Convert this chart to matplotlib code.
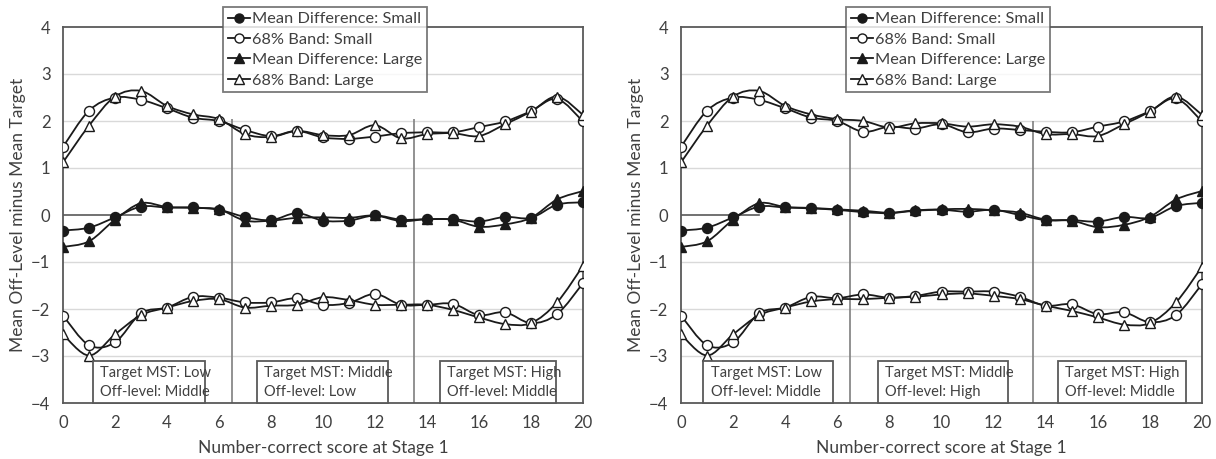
import numpy as np
import matplotlib
matplotlib.use("Agg")
import matplotlib.pyplot as plt
from matplotlib.path import Path
from matplotlib.patches import PathPatch, Rectangle
from matplotlib.lines import Line2D

plt.rcParams['font.family'] = ['Lato', 'DejaVu Sans']

scores = list(range(21))
x_ticks = list(range(0, 21, 2))
y_ticks = [4, 3, 2, 1, 0, -1, -2, -3, -4]

legend_labels = ["Mean Difference: Small", "68% Band: Small",
                 "Mean Difference: Large", "68% Band: Large"]

# ---- Left panel ----
L_mean_small = [-0.33, -0.27, -0.05, 0.18, 0.16, 0.16, 0.11, -0.04, -0.11, 0.04, -0.12,
                -0.12, -0.01, -0.10, -0.09, -0.09, -0.14, -0.04, -0.06, 0.22, 0.27]
L_mean_large = [-0.68, -0.56, -0.10, 0.25, 0.17, 0.15, 0.12, -0.12, -0.12, -0.06, -0.05,
                -0.06, -0.01, -0.13, -0.09, -0.10, -0.25, -0.20, -0.06, 0.33, 0.51]
L_band_small_hi = [1.45, 2.22, 2.50, 2.45, 2.27, 2.07, 2.00, 1.81, 1.68, 1.79, 1.65,
                   1.62, 1.67, 1.74, 1.76, 1.76, 1.87, 1.99, 2.21, 2.47, 1.99]
L_band_large_hi = [1.12, 1.90, 2.52, 2.64, 2.32, 2.14, 2.04, 1.72, 1.66, 1.79, 1.70,
                   1.70, 1.91, 1.63, 1.72, 1.74, 1.68, 1.93, 2.20, 2.52, 2.13]
L_band_small_lo = [-2.14, -2.77, -2.71, -2.09, -1.97, -1.74, -1.76, -1.86, -1.86, -1.77, -1.91,
                   -1.87, -1.68, -1.91, -1.91, -1.89, -2.13, -2.07, -2.30, -2.11, -1.45]
L_band_large_lo = [-2.54, -2.99, -2.54, -2.13, -1.97, -1.83, -1.79, -1.97, -1.93, -1.91, -1.75,
                   -1.81, -1.91, -1.91, -1.91, -2.02, -2.18, -2.32, -2.30, -1.86, -1.08]
L_boxes = [("Target MST: Low\nOff-level: Middle", 1.14, 5.46),
           ("Target MST: Middle\nOff-level: Low", 7.45, 12.49),
           ("Target MST: High\nOff-level: Middle", 14.5, 18.96)]

# ---- Right panel ----
R_mean_small = [-0.33, -0.27, -0.05, 0.18, 0.16, 0.14, 0.11, 0.06, 0.04, 0.09, 0.11,
                0.07, 0.11, 0.00, -0.11, -0.11, -0.14, -0.04, -0.06, 0.19, 0.26]
R_mean_large = [-0.68, -0.56, -0.10, 0.25, 0.17, 0.15, 0.12, 0.09, 0.05, 0.10, 0.12,
                0.13, 0.10, 0.05, -0.10, -0.12, -0.26, -0.21, -0.04, 0.33, 0.51]
R_band_small_hi = [1.45, 2.22, 2.50, 2.45, 2.27, 2.07, 2.00, 1.77, 1.88, 1.84, 1.93,
                   1.76, 1.84, 1.81, 1.77, 1.76, 1.88, 1.99, 2.21, 2.48, 1.99]
R_band_large_hi = [1.12, 1.90, 2.52, 2.64, 2.32, 2.14, 2.04, 2.00, 1.86, 1.95, 1.95,
                   1.88, 1.93, 1.88, 1.72, 1.72, 1.68, 1.93, 2.20, 2.52, 2.13]
R_band_small_lo = [-2.14, -2.77, -2.71, -2.09, -1.97, -1.74, -1.77, -1.69, -1.76, -1.72, -1.63,
                   -1.63, -1.63, -1.74, -1.93, -1.90, -2.11, -2.07, -2.28, -2.13, -1.47]
R_band_large_lo = [-2.54, -2.99, -2.54, -2.13, -1.97, -1.84, -1.79, -1.79, -1.76, -1.74, -1.69,
                   -1.67, -1.72, -1.79, -1.93, -2.04, -2.18, -2.33, -2.30, -1.86, -1.10]
R_boxes = [("Target MST: Low\nOff-level: Middle", 0.86, 5.82),
           ("Target MST: Middle\nOff-level: High", 7.57, 12.54),
           ("Target MST: High\nOff-level: Middle", 14.46, 19.4)]

LINE = "#1a1a1a"
TXT = "#404040"
FRAME = "#595959"
GRID = "#d9d9d9"


def smooth_path(xs, ys):
    """Excel-style smoothed line through the points (cubic Bezier segments)."""
    p = np.column_stack([xs, ys]).astype(float)
    n = len(p)
    verts = [p[0]]
    codes = [Path.MOVETO]
    for i in range(n - 1):
        p0 = p[i - 1] if i > 0 else p[i]
        p1, p2 = p[i], p[i + 1]
        p3 = p[i + 2] if i + 2 < n else p[i + 1]
        c1 = p1 + (p2 - p0) / 6.0
        c2 = p2 - (p3 - p1) / 6.0
        verts += [c1, c2, p2]
        codes += [Path.CURVE4] * 3
    return Path(verts, codes)


def draw_series(ax, ys, marker, filled):
    ax.add_patch(PathPatch(smooth_path(scores, ys), fill=False, edgecolor=LINE,
                           lw=1.3, zorder=3))
    ax.plot(scores, ys, linestyle="none", marker=marker, ms=7.2,
            mfc=LINE if filled else "white", mec=LINE, mew=1.0, zorder=4)


def panel(ax, ms, ml, bsh, blh, bsl, bll, boxes, vtops):
    ax.set_xlim(0, 20)
    ax.set_ylim(-4, 4)
    ax.set_yticks(y_ticks)
    ax.set_xticks(x_ticks)
    ax.tick_params(length=0, labelsize=12, colors=TXT, pad=9)
    for s in ax.spines.values():
        s.set_color(FRAME)
        s.set_linewidth(1.3)
    for yv in [-3, -2, -1, 1, 2, 3]:
        ax.axhline(yv, color=GRID, lw=1.0, zorder=0)
    ax.plot([0, 3], [0, 0], color=FRAME, lw=1.2, zorder=1)
    ax.vlines([6.5, 13.5], -4, vtops, color="#7f7f7f", lw=1.2, zorder=1)

    draw_series(ax, bsh, "o", False)
    draw_series(ax, bsl, "o", False)
    draw_series(ax, blh, "^", False)
    draw_series(ax, bll, "^", False)
    draw_series(ax, ms, "o", True)
    draw_series(ax, ml, "^", True)

    for txt, x0, x1 in boxes:
        ax.add_patch(Rectangle((x0, -4), x1 - x0, 0.89, facecolor="white",
                               edgecolor=FRAME, lw=1.3, zorder=5, clip_on=False))
        ax.text(x0 + 0.28, -3.56, txt, ha="left", va="center", fontsize=10.5,
                color=TXT, linespacing=1.45, zorder=6)
    ax.set_xlabel("Number-correct score at Stage 1", fontsize=12.5, color=TXT, labelpad=6)
    ax.set_ylabel("Mean Off-Level minus Mean Target", fontsize=12.5, color=TXT, labelpad=4)


fig = plt.figure(figsize=(12.16, 4.59), dpi=100)
axL = fig.add_axes([63 / 1216, 56 / 459, 520 / 1216, 376 / 459])
axR = fig.add_axes([681 / 1216, 56 / 459, 521 / 1216, 376 / 459])

panel(axL, L_mean_small, L_mean_large, L_band_small_hi, L_band_large_hi,
      L_band_small_lo, L_band_large_lo, L_boxes, [2.05, 2.05])
panel(axR, R_mean_small, R_mean_large, R_band_small_hi, R_band_large_hi,
      R_band_small_lo, R_band_large_lo, R_boxes, [1.9, 2.0])

handles = [
    Line2D([], [], color=LINE, lw=1.3, marker="o", ms=6.5, mfc=LINE, mec=LINE),
    Line2D([], [], color=LINE, lw=1.3, marker="o", ms=6.5, mfc="white", mec=LINE),
    Line2D([], [], color=LINE, lw=1.3, marker="^", ms=6.5, mfc=LINE, mec=LINE),
    Line2D([], [], color=LINE, lw=1.3, marker="^", ms=6.5, mfc="white", mec=LINE),
]
for x0 in [223 / 1216, 846 / 1216]:
    leg = fig.legend(handles, legend_labels, loc="upper left",
                     bbox_to_anchor=(x0, 1 - 7 / 459), fontsize=11.8,
                     frameon=True, fancybox=False, handlelength=1.35,
                     handletextpad=0.1, labelspacing=0.36, borderpad=0.3,
                     borderaxespad=0, labelcolor=TXT)
    leg.get_frame().set_edgecolor(FRAME)
    leg.get_frame().set_linewidth(1.3)
    leg.set_zorder(10)

fig.savefig("out.png", dpi=100)
